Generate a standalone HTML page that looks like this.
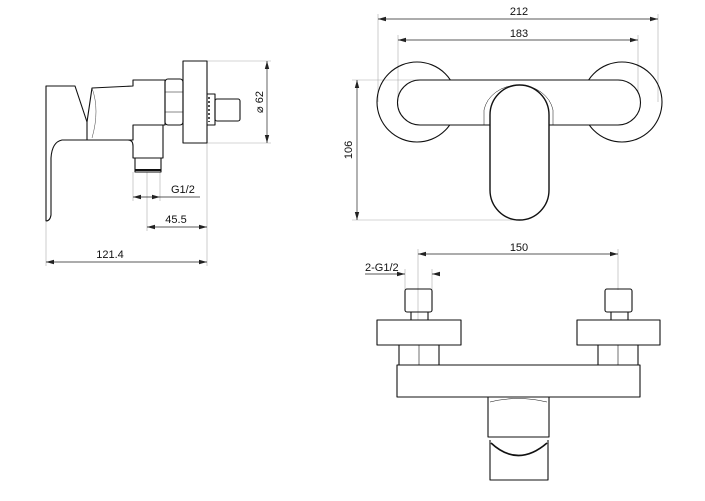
<!DOCTYPE html>
<html><head><meta charset="utf-8"><style>
html,body{margin:0;padding:0;background:#fff;}
svg{display:block;}
text{font-family:"Liberation Sans",sans-serif;font-size:11px;fill:#111;}
</style></head><body>
<svg width="705" height="501" viewBox="0 0 705 501" xmlns="http://www.w3.org/2000/svg">
<defs>
<marker id="a" markerWidth="8" markerHeight="6" refX="8" refY="3" orient="auto-start-reverse" markerUnits="userSpaceOnUse"><path d="M0,0.8 L8,3 L0,5.2 Z" fill="#222"/></marker>
</defs>
<g fill="none" stroke="#aaa" stroke-width="0.6">
<!-- side view extension lines -->
<line x1="46" y1="222" x2="46" y2="266"/>
<line x1="207" y1="143" x2="207" y2="266"/>
<line x1="133" y1="172" x2="133" y2="201"/>
<line x1="160" y1="172" x2="160" y2="201"/>
<line x1="147" y1="172" x2="147" y2="231"/>
<line x1="207" y1="61" x2="271" y2="61"/>
<line x1="207" y1="143" x2="271" y2="143"/>
<!-- top view ext -->
<line x1="378" y1="14" x2="378" y2="102"/>
<line x1="658" y1="14" x2="658" y2="102"/>
<line x1="398" y1="35" x2="398" y2="102"/>
<line x1="638" y1="35" x2="638" y2="102"/>
<line x1="352" y1="80" x2="420" y2="80"/>
<line x1="352" y1="220" x2="515" y2="220"/>
<!-- bottom view ext -->
<line x1="418" y1="249" x2="418" y2="320"/>
<line x1="618" y1="249" x2="618" y2="290"/>
<line x1="405" y1="269" x2="405" y2="290"/>
<line x1="432" y1="269" x2="432" y2="290"/>
</g>
<g fill="none" stroke="#222" stroke-width="0.7">
<line x1="46" y1="262" x2="207" y2="262" marker-start="url(#a)" marker-end="url(#a)"/>
<line x1="147" y1="227" x2="207" y2="227" marker-start="url(#a)" marker-end="url(#a)"/>
<line x1="133" y1="197" x2="160" y2="197" marker-start="url(#a)" marker-end="url(#a)"/>
<line x1="160" y1="197" x2="200" y2="197"/>
<line x1="267" y1="61" x2="267" y2="143" marker-start="url(#a)" marker-end="url(#a)"/>
<line x1="378" y1="19" x2="658" y2="19" marker-start="url(#a)" marker-end="url(#a)"/>
<line x1="398" y1="40" x2="638" y2="40" marker-start="url(#a)" marker-end="url(#a)"/>
<line x1="357" y1="80" x2="357" y2="220" marker-start="url(#a)" marker-end="url(#a)"/>
<line x1="418" y1="254" x2="618" y2="254" marker-start="url(#a)" marker-end="url(#a)"/>
<line x1="365" y1="274" x2="405" y2="274" marker-end="url(#a)"/>
<line x1="440" y1="274" x2="432" y2="274" marker-end="url(#a)"/>
</g>
<g fill="none" stroke="#111" stroke-width="1.1" stroke-linejoin="round">
<!-- side view -->
<path d="M46,86 L75,86 L87,122 L87,140 L62,140 Q52,142 51,158 L51,215 Q50,221 46,221 Z"/>
<path d="M87,122 L92,88 L133,86 L133,80 L165,80 L165,125 L133,125 L133,140 L87,140"/>
<path d="M92,140 L128,140 Q133,140 133,146 L133,158 L163,158 L163,125"/>
<rect x="135" y="158" width="26" height="14"/>
<line x1="135" y1="170" x2="161" y2="170" stroke-width="2"/>
<rect x="165" y="79" width="18" height="46" rx="3"/>
<line x1="165" y1="92" x2="183" y2="92" stroke-width="0.5"/>
<line x1="165" y1="112" x2="183" y2="112" stroke-width="0.5"/>
<rect x="183" y="61" width="24" height="82"/>
<path d="M207,94 L215,94 L215,125 L207,125"/>
<rect x="215" y="99" width="25" height="22" rx="2"/>
<line x1="209" y1="97" x2="209" y2="122" stroke-dasharray="2,2" stroke-width="1.5"/>
<path d="M92,88 Q100,110 92,138" stroke-width="0.4"/>
<!-- top view -->
<circle cx="417" cy="102" r="40"/>
<circle cx="622" cy="102" r="40"/>
<path d="M420,80 L618,80 A22,22 0 0 1 618,125 L420,125 A22,22 0 0 1 420,80 Z" fill="#fff"/>
<path d="M484,125 L484,110 A35,30 0 0 1 553,110 L553,125" stroke-width="0.5"/>
<path d="M490,122 L490,115 A29.5,30 0 0 1 549,115 L549,190 A29.5,30 0 0 1 490,190 Z" fill="#fff" stroke-width="1.4"/>
<!-- bottom view -->
<rect x="405" y="289" width="27" height="23" rx="2"/>
<rect x="411" y="312" width="17" height="8"/>
<rect x="377" y="320" width="84" height="25"/>
<rect x="399" y="345" width="40" height="20"/>
<line x1="419" y1="345" x2="419" y2="365" stroke-width="0.6"/>
<rect x="605" y="289" width="27" height="23" rx="2"/>
<rect x="611" y="312" width="17" height="8"/>
<rect x="577" y="320" width="83" height="25"/>
<rect x="598" y="345" width="40" height="20"/>
<line x1="618" y1="345" x2="618" y2="365" stroke-width="0.6"/>
<rect x="397" y="365" width="243" height="32"/>
<path d="M488,397 L488,437 L549,437 L549,397"/>
<path d="M490,402 Q518,395 547,402" stroke-width="0.6"/>
<path d="M490,440 L490,480 L548,480 L548,440"/>
<path d="M491,443 Q518,468 547,443" stroke-width="1.6"/>
</g>
<text x="110" y="258" text-anchor="middle">121.4</text>
<text x="176" y="223" text-anchor="middle">45.5</text>
<text x="171" y="193">G1/2</text>
<text transform="translate(263,102) rotate(-90)" text-anchor="middle">⌀ 62</text>
<text x="519" y="15" text-anchor="middle">212</text>
<text x="519" y="37" text-anchor="middle">183</text>
<text transform="translate(352,150) rotate(-90)" text-anchor="middle">106</text>
<text x="519" y="251" text-anchor="middle">150</text>
<text x="365" y="271">2-G1/2</text>
</svg>
</body></html>
